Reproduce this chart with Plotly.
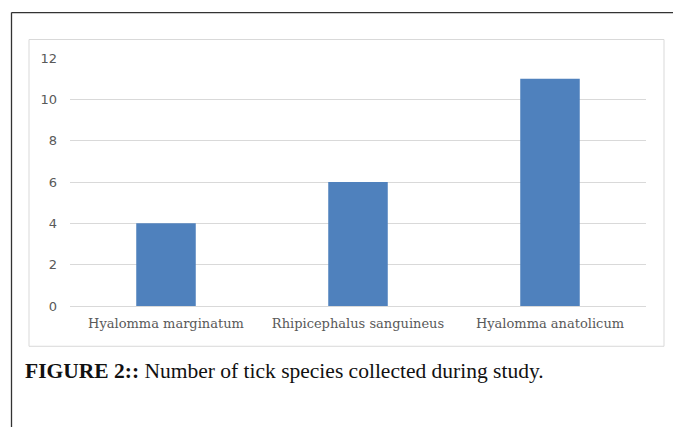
import plotly.graph_objects as go

categories = ["Hyalomma marginatum", "Rhipicephalus sanguineus", "Hyalomma anatolicum"]
counts = [4, 6, 11]
y_ticks = [0, 2, 4, 6, 8, 10, 12]

OFF = 8  # page body margin offset
W, H = 681, 427
L, R, T, B = 70 - OFF, 646 - OFF, 57.5 - OFF, 305.7 - OFF  # plot area in pixels

def px(x):
    return (x - OFF - L) / (R - L)

def py(y):
    return (B - (y - OFF)) / (B - T)

fig = go.Figure(go.Bar(
    x=categories, y=counts, marker=dict(color="#4f81bd", line=dict(width=0)),
    width=0.31, hoverinfo="skip"))

shapes = [
    # inner chart box
    dict(type="rect", xref="paper", yref="paper", x0=px(29), x1=px(664), y0=py(346), y1=py(39),
         line=dict(color="#d9d9d9", width=1), fillcolor="rgba(0,0,0,0)", layer="below"),
    # outer frame: top line
    dict(type="line", xref="paper", yref="paper", x0=px(11.5), x1=px(695), y0=py(12), y1=py(12),
         line=dict(color="#333333", width=1.3)),
    # outer frame: left line
    dict(type="line", xref="paper", yref="paper", x0=px(11.5), x1=px(11.5), y0=py(12), y1=py(440),
         line=dict(color="#333333", width=1.3)),
]

fig.add_annotation(
    xref="paper", yref="paper", x=px(23), y=py(371), xanchor="left", yanchor="middle",
    text="<b>FIGURE 2::</b> Number of tick species collected during study.",
    showarrow=False, font=dict(family="Liberation Serif", size=21.5, color="#111111"))

fig.update_layout(
    width=W, height=H, margin=dict(l=L, r=W - R, t=T, b=H - B, pad=0),
    paper_bgcolor="white", plot_bgcolor="white", showlegend=False,
    shapes=shapes, bargap=0.69,
    xaxis=dict(showgrid=False, showline=False, ticks="", ticklen=0, ticklabelstandoff=8,
               tickfont=dict(family="DejaVu Serif", size=13, color="#595959"), fixedrange=True),
    yaxis=dict(range=[0, 12], tickvals=y_ticks, showgrid=True, gridcolor="#d9d9d9", gridwidth=1,
               zeroline=True, zerolinecolor="#d9d9d9", zerolinewidth=1, showline=False,
               ticks="", ticklabelstandoff=12,
               tickfont=dict(family="DejaVu Sans", size=13, color="#595959"), fixedrange=True),
)

fig.write_html("out.html")
